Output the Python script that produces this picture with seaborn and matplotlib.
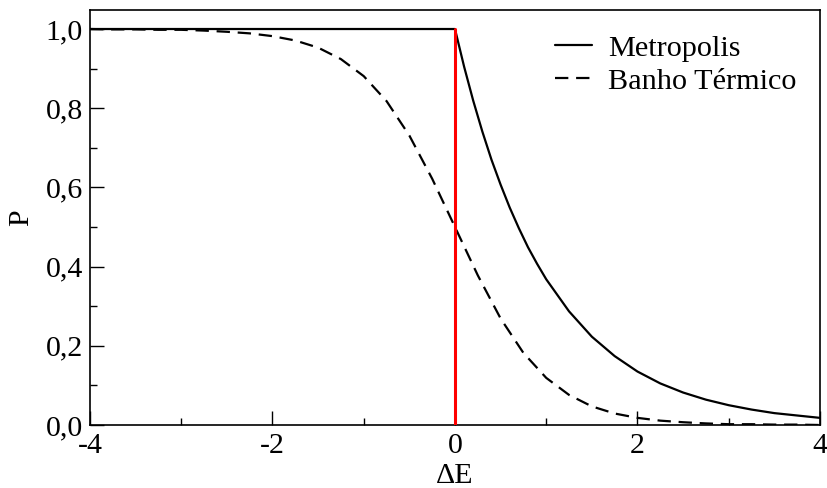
import numpy as np
import matplotlib
matplotlib.use("Agg")
import matplotlib.pyplot as plt
import pandas as pd
import seaborn as sns

# Values
metro_x = [-4.0, 0.0, 0.1, 0.2, 0.3, 0.4, 0.5, 0.6, 0.7, 0.8, 0.9, 1.0,
           1.25, 1.5, 1.75, 2.0, 2.25, 2.5, 2.75, 3.0, 3.25, 3.5, 3.75, 4.0]
metro_p = [1.0, 1.0, 0.905, 0.819, 0.741, 0.670, 0.607, 0.549, 0.497, 0.449,
           0.407, 0.368, 0.287, 0.223, 0.174, 0.135, 0.105, 0.082, 0.064,
           0.050, 0.039, 0.030, 0.024, 0.018]

bath_x = [-4.0, -3.75, -3.5, -3.25, -3.0, -2.75, -2.5, -2.25, -2.0, -1.75,
          -1.5, -1.25, -1.0, -0.75, -0.5, -0.25, 0.0, 0.25, 0.5, 0.75, 1.0,
          1.25, 1.5, 1.75, 2.0, 2.25, 2.5, 2.75, 3.0, 3.25, 3.5, 3.75, 4.0]
bath_p = [1.000, 0.999, 0.999, 0.998, 0.998, 0.996, 0.993, 0.989, 0.982,
          0.971, 0.953, 0.924, 0.881, 0.818, 0.731, 0.622, 0.500, 0.378,
          0.269, 0.182, 0.119, 0.076, 0.047, 0.029, 0.018, 0.011, 0.007,
          0.004, 0.002, 0.002, 0.001, 0.001, 0.000]

red_x = [0.0, 0.0]
red_p = [0.0, 1.0]

x_ticks = [-4, -2, 0, 2, 4]
y_ticks = [0.0, 0.2, 0.4, 0.6, 0.8, 1.0]

sns.set_style("ticks")
plt.rcParams["font.family"] = ["Liberation Serif", "DejaVu Serif"]
plt.rcParams.update({"text.color": "black", "axes.labelcolor": "black",
                     "xtick.color": "black", "ytick.color": "black"})

fig = plt.figure(figsize=(8.27, 4.88), dpi=100)
ax = fig.add_axes([0.1088, 0.1291, 0.8827, 0.8504])

metro = pd.DataFrame({"dE": metro_x, "P": metro_p})
bath = pd.DataFrame({"dE": bath_x, "P": bath_p})
red = pd.DataFrame({"dE": red_x, "P": red_p})

sns.lineplot(data=metro, x="dE", y="P", ax=ax, color="black", lw=1.6,
             label="Metropolis", sort=False, estimator=None)
sns.lineplot(data=bath, x="dE", y="P", ax=ax, color="black", lw=1.6,
             label="Banho Térmico", sort=False, estimator=None)
ax.lines[-1].set_dashes([6, 3.5])
sns.lineplot(data=red, x="dE", y="P", ax=ax, color="red", lw=2.2,
             sort=False, estimator=None, zorder=5)

ax.set_xlim(-4, 4)
ax.set_ylim(0, 1.048)
ax.set_xticks(x_ticks)
ax.set_xticklabels([str(t) for t in x_ticks])
ax.set_xticks([-3, -1, 1, 3], minor=True)
ax.set_yticks(y_ticks)
ax.set_yticklabels([f"{t:.1f}".replace(".", ",") for t in y_ticks])
ax.set_yticks([0.1, 0.3, 0.5, 0.7, 0.9], minor=True)
ax.tick_params(which="both", direction="in", labelsize=21.5, width=1,
               color="black", labelcolor="black")
ax.tick_params(axis="y", pad=5)
ax.tick_params(axis="x", pad=6)
ax.tick_params(which="major", length=10)
ax.tick_params(which="minor", length=5)
for s in ax.spines.values():
    s.set_linewidth(1.2)
    s.set_color("black")

ax.set_xlabel("ΔE", fontsize=21.5, labelpad=3, color="black")
ax.set_ylabel("P", fontsize=21.5, labelpad=8, color="black")

leg = ax.legend(loc="upper right", frameon=False, fontsize=21.8,
                handlelength=1.2, handletextpad=0.55, labelspacing=0.2,
                borderaxespad=0.2, bbox_to_anchor=(0.993, 0.985),
                labelcolor="black")

fig.savefig("out.png", dpi=100)
